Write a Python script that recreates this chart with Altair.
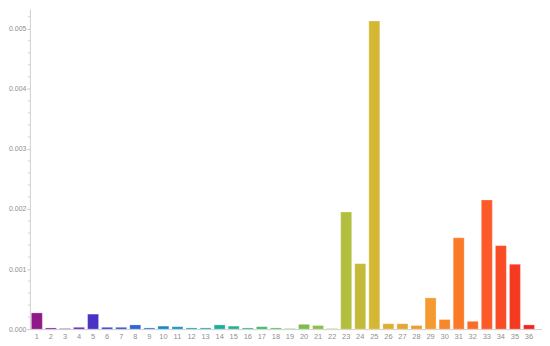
import altair as alt
import pandas as pd

categories = [str(i) for i in range(1, 37)]
values = [0.00027, 0.00002, 0.00001, 0.00003, 0.00025, 0.00003, 0.00003, 0.00007,
          0.00002, 0.00005, 0.00004, 0.00002, 0.00002, 0.00007, 0.00005, 0.00002,
          0.00004, 0.00002, 0.00001, 0.00008, 0.00006, 0.00001, 0.00195, 0.00109,
          0.00513, 0.00009, 0.00009, 0.00006, 0.00052, 0.00016, 0.00152, 0.00013,
          0.00215, 0.00139, 0.00108, 0.00007]
colors = ["#8E1A8A", "#7A1E9A", "#6A25A8", "#5A2AB5", "#4B32C6", "#3E3ECC", "#3450D0", "#2A66D4",
          "#2078D0", "#1588CC", "#1296C4", "#14A0B8", "#18A8AA", "#1CAE9C", "#24B28C", "#30B47C",
          "#40B86C", "#54BA60", "#68BC56", "#7CBD4E", "#8EBE48", "#A0BE44", "#B2BE40", "#C4BA3A",
          "#D4B834", "#DEAE32", "#E6A630", "#EE9C2E", "#F59A30", "#F8862A", "#FA7A28", "#FB6C27",
          "#FC5A28", "#FA4C24", "#F63A22", "#F22420"]
major_ticks = [0.0, 0.001, 0.002, 0.003, 0.004, 0.005]
minor_ticks = [round(0.0002 * i, 4) for i in range(0, 27) if i % 5 != 0]

df = pd.DataFrame({"cat": categories, "value": values, "color": colors})
minor_df = pd.DataFrame({"v": minor_ticks})

ymax = 0.00533
yscale = alt.Scale(domain=[0, ymax], nice=False, zero=True)

bars = alt.Chart(df).mark_bar(stroke="white", strokeOpacity=0.45, strokeWidth=0.6).encode(
    x=alt.X("cat:N", sort=categories,
            scale=alt.Scale(paddingInner=0.22, paddingOuter=0.32, align=0.165),
            axis=alt.Axis(title=None, labelAngle=0, labelFontSize=7.5, labelColor="#909090",
                          labelFont="Liberation Sans", domainColor="#d0d0d0", ticks=False,
                          labelPadding=3)),
    y=alt.Y("value:Q", scale=yscale,
            axis=alt.Axis(title=None, values=major_ticks, format=".3f", labelFontSize=7,
                          labelColor="#909090", labelFont="Liberation Sans",
                          domainColor="#d0d0d0", tickColor="#c8c8c8", tickSize=3,
                          labelPadding=1, grid=False)),
    color=alt.Color("color:N", scale=None, legend=None),
)

minor = alt.Chart(minor_df).mark_rule(color="#d0d0d0", strokeWidth=1).encode(
    y=alt.Y("v:Q", scale=yscale),
    x=alt.value(-2),
    x2=alt.value(0),
)

chart = alt.layer(bars, minor).properties(
    width=515, height=322,
    autosize=alt.AutoSizeParams(type="none"),
    padding={"left": 22, "top": 0, "right": 0, "bottom": 12},
).configure_view(stroke=None)

chart.save("out.html", embed_options={"renderer": "svg", "actions": False})
